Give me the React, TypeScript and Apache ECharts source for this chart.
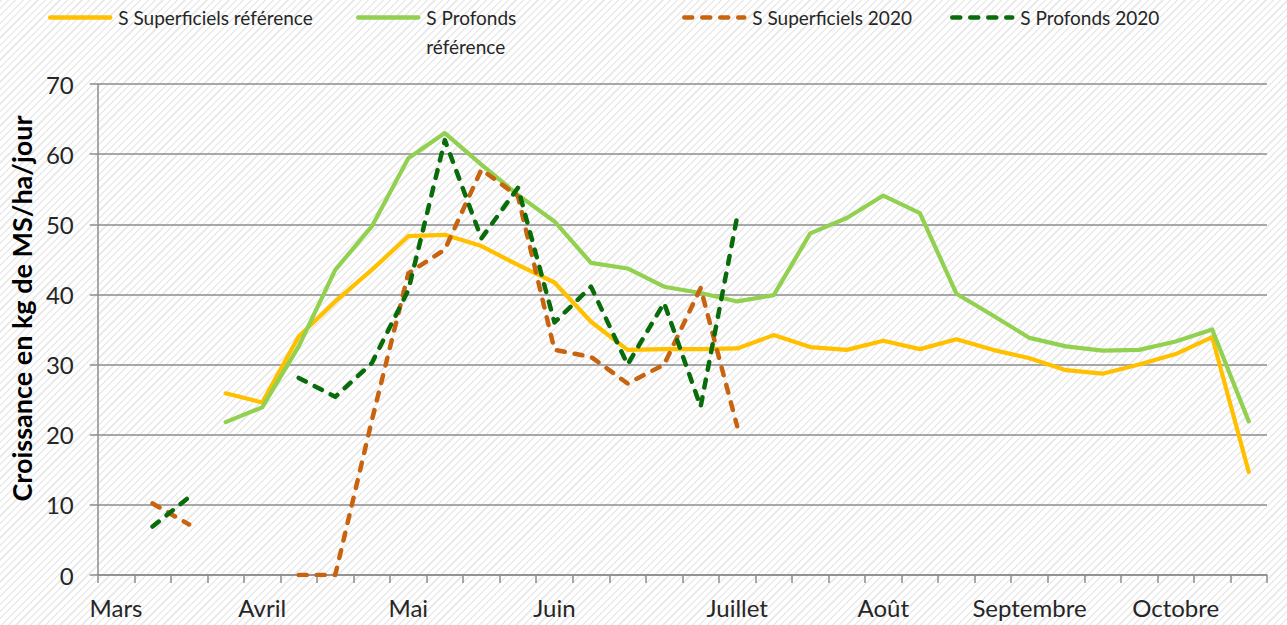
import React, { useEffect, useRef } from "react";
import * as echarts from "echarts";

const categories: string[] = [
  "Mars", "", "", "", "Avril", "", "", "", "Mai", "", "", "", "Juin", "", "", "", "",
  "Juillet", "", "", "", "Août", "", "", "", "Septembre", "", "", "", "Octobre", "", "",
];

const supRef: (number | null)[] = [
  null, null, null, 25.9, 24.6, 34.0, 39.0, 43.5, 48.3, 48.5, 46.9, 44.2, 41.7, 36.1, 32.1, 32.2,
  32.2, 32.3, 34.2, 32.5, 32.1, 33.4, 32.2, 33.6, 32.1, 30.9, 29.2, 28.7, 30.0, 31.5, 33.9, 14.7,
];

const profRef: (number | null)[] = [
  null, null, null, 21.8, 23.9, 32.6, 43.5, 49.7, 59.4, 63.0, 58.5, 54.2, 50.4, 44.5, 43.7, 41.1,
  40.2, 39.0, 39.9, 48.7, 50.9, 54.1, 51.6, 40.1, 37.0, 33.8, 32.6, 32.0, 32.1, 33.3, 35.0, 21.9,
];

const sup2020: (number | null)[] = [
  null, 10.2, 7.2, null, null, 0, 0, 22.0, 43.0, 46.4, 57.8, 54.0, 32.1, 31.1, 27.3, 30.0,
  40.9, 21.2, null, null, null, null, null, null, null, null, null, null, null, null, null, null,
];

const prof2020: (number | null)[] = [
  null, 6.9, 11.1, null, null, 28.1, 25.4, 30.2, 40.6, 62.0, 48.0, 55.2, 36.0, 41.1, 30.0, 38.8,
  24.0, 51.1, null, null, null, null, null, null, null, null, null, null, null, null, null, null,
];

const seriesNames = [
  "S Superficiels référence",
  "S Profonds référence",
  "S Superficiels 2020",
  "S Profonds 2020",
];

const colors = ["#FFC000", "#92D050", "#C8640F", "#0A6B0A"];

const FONT = "Lato, 'Noto Sans', sans-serif";
const DASH = [8, 10];

export default function App() {
  const ref = useRef<HTMLDivElement>(null);

  useEffect(() => {
    if (!ref.current) return;
    const chart = echarts.init(ref.current, undefined, { renderer: "svg" });

    const legendBase = {
      orient: "horizontal" as const,
      itemWidth: 60,
      itemHeight: 14,
      padding: 0,
      itemStyle: { opacity: 0 },
      textStyle: { fontFamily: FONT, fontSize: 19, color: "#262626", lineHeight: 29, padding: [0, 0, 0, 3] },
    };
    const solidLegendLine = { width: 4.5, type: "solid" as const, cap: "round" as const };
    const dashLegendLine = { width: 4.5, type: DASH, cap: "round" as const };

    const solid = (color: string) => ({
      type: "line" as const,
      showSymbol: false,
      symbol: "none",
      symbolSize: 0,
      connectNulls: false,
      lineStyle: { color, width: 4.2, cap: "round" as const, join: "round" as const },
      itemStyle: { color },
    });
    const dashed = (color: string) => ({
      type: "line" as const,
      showSymbol: false,
      symbol: "none",
      symbolSize: 0,
      connectNulls: false,
      lineStyle: { color, width: 4.5, type: DASH, cap: "round" as const, join: "round" as const },
      itemStyle: { color },
    });

    chart.setOption({
      animation: false,
      backgroundColor: "transparent",
      textStyle: { fontFamily: FONT },
      legend: [
        { ...legendBase, data: [seriesNames[0]], left: 48, top: 3, lineStyle: solidLegendLine },
        {
          ...legendBase,
          data: [seriesNames[1]],
          left: 356,
          top: 3 - 29,
          lineStyle: solidLegendLine,
          formatter: () => " \nS Profonds\nréférence",
        },
        { ...legendBase, data: [seriesNames[2]], left: 682, top: 3, lineStyle: dashLegendLine },
        { ...legendBase, data: [seriesNames[3]], left: 950, top: 3, lineStyle: dashLegendLine },
      ],
      grid: { left: 97, right: 20, top: 84, bottom: 50, containLabel: false },
      xAxis: {
        type: "category",
        data: categories,
        boundaryGap: true,
        axisLine: { lineStyle: { color: "#8c8c8c", width: 1.5 } },
        axisTick: { show: true, interval: 0, length: 8, lineStyle: { color: "#8c8c8c", width: 1.5 } },
        axisLabel: {
          interval: 0,
          fontFamily: FONT,
          fontSize: 24,
          color: "#262626",
          margin: 20,
        },
        splitLine: { show: false },
      },
      yAxis: {
        type: "value",
        min: 0,
        max: 70,
        interval: 10,
        name: "Croissance en kg de MS/ha/jour",
        nameLocation: "middle",
        nameGap: 60,
        nameTextStyle: {
          fontFamily: FONT,
          fontSize: 27,
          fontWeight: "bold",
          color: "#000000",
          padding: [0, 0, 0, 42],
        },
        axisLine: { show: true, lineStyle: { color: "#8c8c8c", width: 1.5 } },
        axisTick: { show: true, length: 8, lineStyle: { color: "#8c8c8c", width: 1.5 } },
        axisLabel: { fontFamily: FONT, fontSize: 24, color: "#262626", margin: 24 },
        splitLine: { show: true, lineStyle: { color: "#8c8c8c", width: 1.5 } },
      },
      series: [
        { name: seriesNames[0], data: supRef, ...solid(colors[0]), z: 2 },
        { name: seriesNames[1], data: profRef, ...solid(colors[1]), z: 2 },
        { name: seriesNames[2], data: sup2020, ...dashed(colors[2]), z: 3 },
        { name: seriesNames[3], data: prof2020, ...dashed(colors[3]), z: 4 },
      ],
    });

    return () => chart.dispose();
  }, []);

  return (
    <div
      ref={ref}
      style={{
        position: "fixed",
        left: 0,
        top: 0,
        width: 1287,
        height: 625,
        background:
          "repeating-linear-gradient(-45deg, #ffffff 0px, #ffffff 3.6px, #ebebeb 3.6px, #ebebeb 5.2px)",
      }}
    />
  );
}
